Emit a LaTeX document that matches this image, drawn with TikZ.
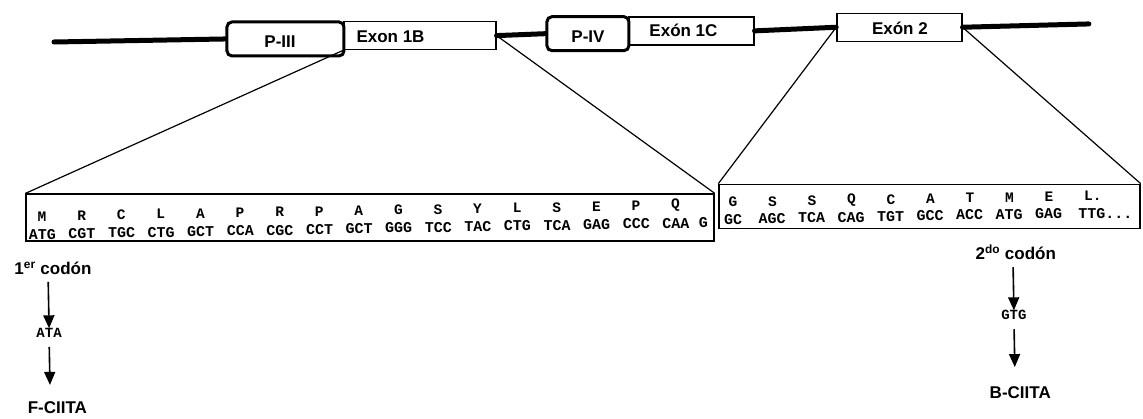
\documentclass[tikz,border=0pt]{standalone}
\usepackage{fontspec}
\setmainfont{Liberation Sans}
\newfontfamily\seqfont{Liberation Mono}
\usetikzlibrary{arrows.meta}
\tikzset{
  lbl/.style={font=\fontsize{17}{20}\selectfont\bfseries, inner sep=1pt},
  big/.style={font=\fontsize{17}{20}\selectfont\bfseries, inner sep=1pt},
  cdn/.style={font=\fontsize{17}{20}\selectfont\bfseries, inner sep=1pt},
  cod/.style={font=\seqfont\fontsize{15}{18}\selectfont\bfseries, inner sep=0pt},
  smallcod/.style={font=\seqfont\fontsize{14}{16}\selectfont\bfseries, inner sep=0pt},
  aa/.style={font=\seqfont\fontsize{14.5}{16}\selectfont\bfseries, inner sep=0pt},
  exonbox/.style={draw, fill=white, line width=1.3pt, minimum height=28pt, inner sep=0pt},
  promobox/.style={draw, fill=white, line width=3pt, rounded corners=5pt, minimum height=34pt, inner sep=0pt},
  seqbox/.style={draw, line width=1.3pt, inner sep=0pt},
  genome/.style={line width=5pt, line cap=round},
  zoomline/.style={line width=1.2pt},
  arr/.style={line width=1.6pt, -{Triangle[width=11pt,length=13pt]}},
}
\begin{document}
\begin{tikzpicture}[x=1pt,y=-1pt]
\useasboundingbox (0,0) rectangle (1143,418);
\begin{scope}[rotate around={1:(571,209)}]
  % exon boxes
  \node[exonbox, minimum width=152pt] (e1b) at (423,33) {};
  \node[exonbox, minimum width=125pt] (e1c) at (694.5,33) {};
  \node[exonbox, minimum width=125pt] (e2) at (902.5,33) {};
  % promoter boxes
  \node[promobox, minimum width=117pt] (p3) at (288.5,34) {};
  \node[promobox, minimum width=82pt] (p4) at (591,34) {};
  % genome line
  \coordinate (gs) at (57,33);
  \coordinate (ge) at (1092,33);
  \draw[genome] (gs) -- (p3.west);
  \draw[genome] (e1b.east) -- (p4.west);
  \draw[genome] (e1c.east) -- (e2.west);
  \draw[genome] (e2.east) -- (ge);
  % labels
  \node[lbl] (tp3) at (283,37) {P-III};
  \node[lbl, anchor=west] (t1b) at ([xshift=12pt,yshift=-1pt]e1b.west) {Exon 1B};
  \node[lbl] (tp4) at (591,37) {P-IV};
  \node[lbl, anchor=west] (t1c) at ([xshift=20pt]e1c.west) {Exón 1C};
  \node[lbl] (t2) at (903,34) {Exón 2};
  % sequence boxes
  \node[seqbox, minimum width=688pt, minimum height=47pt] (lbox) at (370,214) {};
  \node[seqbox, minimum width=421pt, minimum height=44pt] (rbox) at (929.5,212.5) {};
  % zoom lines
  \draw[zoomline] (e1b.south west) -- (lbox.north west);
  \draw[zoomline] (e1b.east) -- (lbox.north east);
  \draw[zoomline] (e2.west) -- (rbox.north west);
  \draw[zoomline] (e2.east) -- (rbox.north east);
  % left sequence
  \foreach \a [count=\i from 0] in {M,R,C,L,A,P,R,P,A,G,S,Y,L,S,E,P,Q}
    \node[aa] (la\i) at (42+39.6*\i,207) {\a};
  \foreach \c [count=\i from 0] in {ATG,CGT,TGC,CTG,GCT,CCA,CGC,CCT,GCT,GGG,TCC,TAC,CTG,TCA,GAG,CCC,CAA}
    \node[cod] (lc\i) at (42+39.6*\i,225) {\c};
  \node[cod] (lg) at (703,225) {G};
  % right sequence
  \foreach \a [count=\i from 0] in {G,S,S,Q,C,A,T,M,E}
    \node[aa] (ra\i) at (733+39.5*\i,205) {\a};
  \node[aa, anchor=west] (raL) at (1084,205) {L.};
  \node[cod] (rgc) at (733,222) {GC};
  \foreach \c [count=\i from 0] in {AGC,TCA,CAG,TGT,GCC,ACC,ATG,GAG}
    \node[cod] (rc\i) at (772+39.5*\i,222) {\c};
  \node[cod, anchor=west] (rlast) at (1078,222) {TTG...};
  % bottom left
  \node[cdn] (c1) at (52,259) {1\textsuperscript{er} codón};
  \node[smallcod] (ata) at (47,324) {ATA};
  \node[big] (f) at (54,399) {F-CIITA};
  \draw[arr, shorten <=6pt] (ata |- c1.south) -- (ata.north);
  \draw[arr, shorten <=9pt, shorten >=16pt] (ata.south) -- (ata |- f.north);
  % bottom right
  \node[cdn] (c2) at (1015,260) {2\textsuperscript{do} codón};
  \node[smallcod] (gtg) at (1012,323) {GTG};
  \node[big] (b) at (1017,400) {B-CIITA};
  \draw[arr, shorten <=6pt] (gtg |- c2.south) -- (gtg.north);
  \draw[arr, shorten <=9pt, shorten >=18pt] (gtg.south) -- (gtg |- b.north);
\end{scope}
\end{tikzpicture}
\end{document}
